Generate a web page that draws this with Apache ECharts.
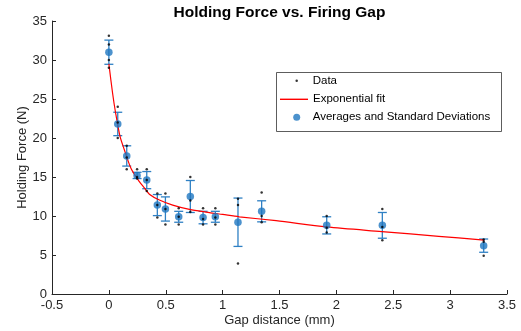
<!DOCTYPE html>
<html>
<head>
<meta charset="utf-8">
<script src="https://cdn.jsdelivr.net/npm/echarts@6/dist/echarts.min.js"></script>
<style>html,body{margin:0;padding:0;background:#fff}#c{width:521px;height:331px}</style>
</head>
<body>
<div id="c"></div>
<script>
// Gap distance (mm) of each test group
const gaps = [0, 0.078, 0.157, 0.248, 0.333, 0.426, 0.497, 0.614, 0.716, 0.828, 0.936, 1.135, 1.343, 1.915, 2.404, 3.295];
// Averages (N) and standard deviations (N)
const averages = [31.0, 21.8, 17.7, 15.2, 14.6, 11.4, 10.9, 9.9, 12.5, 9.8, 9.9, 9.2, 10.6, 8.8, 8.8, 6.2];
const stdDevs  = [1.55, 1.5, 1.3, 0.4, 1.1, 1.35, 1.55, 0.7, 2.05, 0.8, 0.7, 3.1, 1.35, 1.1, 1.65, 0.85];
// Individual measurements per group (N)
const rawData = [
  [33.1, 32.0, 30.0, 29.0],
  [24.0, 22.0, 20.0],
  [19.0, 17.5, 16.0],
  [16.0, 15.0, 14.8],
  [16.0, 14.6, 13.2],
  [12.9, 11.4, 9.8],
  [12.9, 10.9, 8.9],
  [11.0, 9.9, 8.9],
  [15.0, 12.0, 10.5],
  [11.0, 9.6, 8.9],
  [11.0, 9.8, 8.9],
  [12.2, 11.4, 3.9],
  [13.0, 10.0, 9.2],
  [10.0, 8.5, 7.9],
  [10.9, 8.6, 6.9],
  [7.0, 6.7, 4.9]
];
// Exponential fit curve
const fitX = [0, 0.033, 0.057, 0.098, 0.136, 0.195, 0.268, 0.312, 0.356, 0.444, 0.561, 0.708, 0.854, 1.0, 1.147, 1.47, 1.915, 2.4, 2.9, 3.3];
const fitY = [29.5, 25.7, 23.4, 20.2, 18.5, 16.1, 14.4, 13.6, 12.8, 12.05, 11.4, 10.85, 10.5, 10.2, 9.9, 9.4, 8.6, 8.0, 7.4, 6.9];
// Axis ticks
const xTicks = {min: -0.5, max: 3.5, interval: 0.5};
const yTicks = {min: 0, max: 35, interval: 5};

const FONT = '"Liberation Sans", Arial, Helvetica, sans-serif';
const BLUE = '#1f77c0';
const BAR = '#2f80c4';

const dotsData = [];
rawData.forEach((vals, i) => vals.forEach(v => dotsData.push([gaps[i], v])));
const avgData = gaps.map((g, i) => [g, averages[i]]);
const barData = gaps.map((g, i) => [g, averages[i] - stdDevs[i], averages[i] + stdDevs[i]]);
const fitData = fitX.map((x, i) => [x, fitY[i]]);

const chart = echarts.init(document.getElementById('c'), null, {renderer: 'canvas'});
const axisCommon = {
  axisLine: {show: true, onZero: false, lineStyle: {color: '#262626', width: 1}},
  axisTick: {show: true, inside: true, length: 4, lineStyle: {color: '#262626'}},
  axisLabel: {color: '#262626', fontSize: 13, fontFamily: FONT, margin: 5},
  splitLine: {show: false},
  nameTextStyle: {color: '#262626', fontSize: 13, fontFamily: FONT},
  nameLocation: 'middle',
  nameMoveOverlap: false
};
const legendCommon = {
  orient: 'vertical', padding: 0,
  textStyle: {fontSize: 11.5, fontFamily: FONT, color: '#000', lineHeight: 12},
  selectedMode: false
};
chart.setOption({
  animation: false,
  backgroundColor: '#fff',
  title: {
    text: 'Holding Force vs. Firing Gap', left: 274.5, top: 0, textAlign: 'center',
    textStyle: {fontSize: 15.5, fontWeight: 'bold', fontFamily: FONT, color: '#000'}
  },
  grid: {left: 52, right: 14, top: 21, bottom: 37, containLabel: false, outerBoundsMode: 'none'},
  xAxis: Object.assign({}, axisCommon, {
    type: 'value', min: xTicks.min, max: xTicks.max, interval: xTicks.interval,
    name: 'Gap distance (mm)', nameGap: 20
  }),
  yAxis: Object.assign({}, axisCommon, {
    type: 'value', min: yTicks.min, max: yTicks.max, interval: yTicks.interval,
    name: 'Holding Force (N)', nameGap: 23
  }),
  legend: [
    Object.assign({}, legendCommon, {left: 295.45, top: 74.7, itemWidth: 22, itemHeight: 2.5,
      data: [{name: 'Data', icon: 'circle'}]}),
    Object.assign({}, legendCommon, {left: 280, top: 93.3, itemWidth: 28, itemHeight: 1.4,
      data: [{name: 'Exponential fit', icon: 'rect'}]}),
    Object.assign({}, legendCommon, {left: 293.2, top: 111.3, itemWidth: 22, itemHeight: 7,
      data: [{name: 'Averages and Standard Deviations', icon: 'circle'}]})
  ],
  graphic: [{
    type: 'rect', left: 274, top: 70, shape: {x: 0, y: 0, width: 225, height: 59},
    style: {fill: 'none', stroke: '#333', lineWidth: 0.8}, z: 10
  }],
  series: [
    {
      name: 'errorbars', type: 'custom', data: barData, z: 2,
      renderItem: function (params, api) {
        const x = api.value(0);
        const pLo = api.coord([x, api.value(1)]);
        const pHi = api.coord([x, api.value(2)]);
        const hw = 4.5;
        const st = {stroke: BAR, lineWidth: 1.3, fill: 'none'};
        return {type: 'group', children: [
          {type: 'line', shape: {x1: pHi[0], y1: pHi[1], x2: pLo[0], y2: pLo[1]}, style: st},
          {type: 'line', shape: {x1: pHi[0] - hw, y1: pHi[1], x2: pHi[0] + hw, y2: pHi[1]}, style: st},
          {type: 'line', shape: {x1: pLo[0] - hw, y1: pLo[1], x2: pLo[0] + hw, y2: pLo[1]}, style: st}
        ]};
      }
    },
    {
      name: 'Exponential fit', type: 'line', data: fitData, smooth: 0.3, symbol: 'none', z: 3,
      lineStyle: {color: '#ff0000', width: 1.2}, itemStyle: {color: '#ff0000'}
    },
    {
      name: 'Averages and Standard Deviations', type: 'scatter', data: avgData, symbol: 'circle', symbolSize: 7.5, z: 4,
      itemStyle: {color: BLUE}
    },
    {
      name: 'Data', type: 'scatter', data: dotsData, symbol: 'circle', symbolSize: 2.5, z: 5,
      itemStyle: {color: '#000'}
    }
  ]
});
</script>
</body>
</html>
